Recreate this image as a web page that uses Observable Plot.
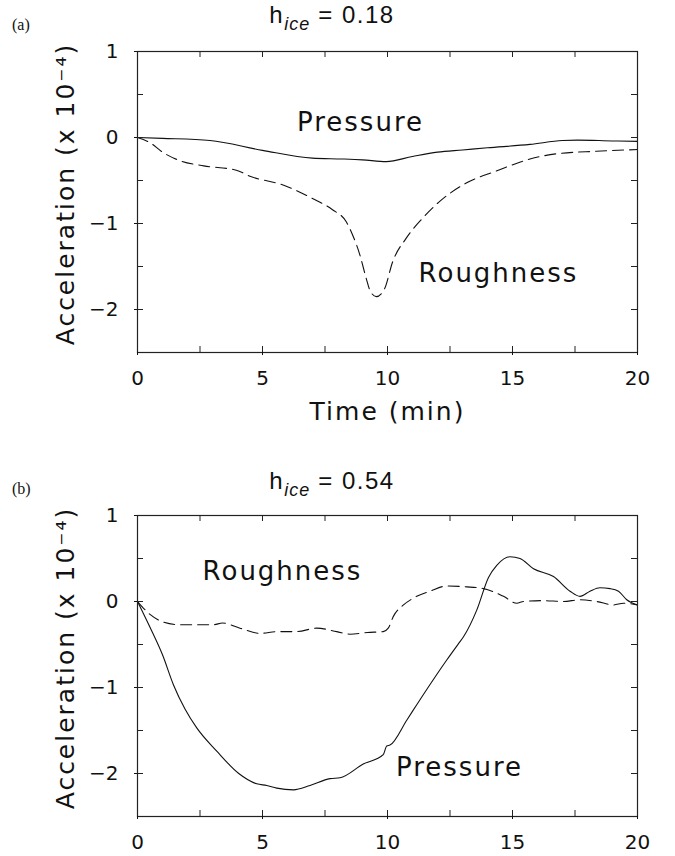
<!DOCTYPE html>
<html>
<head>
<meta charset="utf-8">
<script src="https://cdn.jsdelivr.net/npm/d3@7"></script>
<script src="https://cdn.jsdelivr.net/npm/@observablehq/plot@0.6"></script>
<style>
  body { margin: 0; background: #fff; }
  #fig { position: relative; width: 675px; height: 856px; background: #fff; overflow: hidden; }
  .ttl { position: absolute; font-family: "Liberation Sans", Arial, sans-serif; font-size: 24px; letter-spacing: 1.5px;
         white-space: nowrap; transform: translateX(-50%); line-height: 1; color: #111; }
  .ttl i { font-size: 18px; position: relative; top: 7px; letter-spacing: 1px; }
  .pl { position: absolute; font-family: "Liberation Serif", "Times New Roman", serif; font-size: 16px; line-height: 1; color: #111; }
  .panel { position: absolute; left: 0; }
  .panel g[aria-label="text"] { letter-spacing: 2px; }
</style>
</head>
<body>
<div id="fig">
  <div class="pl" style="left:12px; top:17px;">(a)</div>
  <div class="ttl" style="left:332px; top:3px;">h<i>ice</i> = 0.18</div>
  <div class="panel" id="pa" style="top:40px;"></div>
  <div class="pl" style="left:12px; top:481px;">(b)</div>
  <div class="ttl" style="left:332px; top:469px;">h<i>ice</i> = 0.54</div>
  <div class="panel" id="pb" style="top:500px;"></div>
</div>
<script>
// ---------- data (time in min, acceleration in units of 1e-4) ----------
// Panel (a): h_ice = 0.18
const aPressT = [0, 1, 2.9, 5, 7, 8.2, 9, 9.95, 11, 12, 13, 14, 15.7, 17, 17.6, 19, 20];
const aPressV = [0, -0.01, -0.035, -0.15, -0.24, -0.25, -0.26, -0.28, -0.22, -0.17, -0.145, -0.12, -0.08, -0.035, -0.03, -0.04, -0.045];
const aRoughT = [0, 0.5, 1.0, 1.7, 2.65, 3.95, 4.5, 5.9, 7.0, 7.8, 8.35, 8.6, 8.9, 9.15, 9.3, 9.55, 9.88, 10.2, 10.75, 11.4, 12.1, 13.15, 14.35, 15.7, 16.75, 18.35, 20];
const aRoughV = [0, -0.06, -0.17, -0.27, -0.33, -0.38, -0.45, -0.56, -0.71, -0.84, -0.98, -1.13, -1.37, -1.64, -1.78, -1.85, -1.76, -1.45, -1.17, -0.94, -0.74, -0.53, -0.39, -0.25, -0.19, -0.16, -0.14];

// Panel (b): h_ice = 0.54
const bPressT = [0, 0.5, 1.0, 1.44, 1.9, 2.37, 3.17, 4.05, 4.77, 5.17, 5.57, 6.24, 6.9, 7.7, 8.1, 9.03, 9.83, 9.97, 10.1, 10.77, 11.17, 12.37, 12.84, 13.04, 13.57, 14.04, 14.37, 14.9, 15.3, 15.84, 16.64, 17.3, 17.7, 18.1, 18.5, 18.9, 19.24, 19.57, 20];
const bPressV = [0, -0.3, -0.62, -0.97, -1.25, -1.47, -1.74, -2.0, -2.12, -2.14, -2.17, -2.19, -2.14, -2.06, -2.05, -1.89, -1.78, -1.68, -1.67, -1.38, -1.2, -0.68, -0.49, -0.41, -0.1, 0.28, 0.42, 0.52, 0.5, 0.38, 0.29, 0.12, 0.06, 0.12, 0.16, 0.15, 0.12, 0.02, -0.04];
const bRoughT = [0, 0.5, 1.04, 1.7, 3.04, 3.4, 4.1, 4.9, 5.6, 6.37, 7.17, 7.97, 8.5, 9.2, 9.83, 10.03, 10.24, 10.64, 11.04, 11.7, 12.37, 13.17, 13.84, 14.64, 15.17, 15.44, 16.24, 17.04, 17.7, 18.37, 19.04, 19.44, 20];
const bRoughV = [0, -0.15, -0.24, -0.27, -0.27, -0.25, -0.31, -0.37, -0.35, -0.35, -0.31, -0.35, -0.38, -0.36, -0.35, -0.31, -0.17, -0.04, 0.04, 0.12, 0.18, 0.17, 0.15, 0.06, -0.02, 0.0, 0.01, 0.0, 0.02, 0.0, -0.04, -0.02, -0.04];

// axes
const xMajor = [0, 5, 10, 15, 20];
const xMinor = [0, 2.5, 5, 7.5, 10, 12.5, 15, 17.5, 20];
const yMajor = [-2, -1, 0, 1];
const yMinor = [-2.5, -2, -1.5, -1, -0.5, 0, 0.5, 1];
const xDomain = [0, 20];
const yDomain = [-2.5, 1];
const yTitle = "Acceleration (x 10\u207B\u2074)";
const xTitle = "Time (min)";

// curve labels: [text, t, v]
const aLabels = [["Pressure", 8.92, 0.17], ["Roughness", 14.44, -1.585]];
const bLabels = [["Roughness", 5.8, 0.343], ["Pressure", 12.88, -1.93]];

const toRows = (T, V) => T.map((t, i) => ({t, v: V[i]}));
const fmt = d => d < 0 ? "\u2212" + Math.abs(d) : String(d);

function panel({press, rough, labels, height, marginTop, marginBottom, showXTitle}) {
  const inner = height - marginTop - marginBottom;
  const width = 675, marginLeft = 137, marginRight = 38;
  const innerW = width - marginLeft - marginRight;
  const tk = 6;
  const marks = [
    Plot.line(press, {x: "t", y: "v", stroke: "#111", strokeWidth: 1.1, curve: "monotone-x"}),
    Plot.line(rough, {x: "t", y: "v", stroke: "#111", strokeWidth: 1.1, strokeDasharray: "11,6", curve: "monotone-x"}),
    Plot.frame({stroke: "#222", strokeWidth: 1.2}),
    Plot.ruleX(xMinor, {x: d => d, insetTop: inner - tk, stroke: "#222"}),
    Plot.ruleX(xMinor, {x: d => d, insetBottom: inner - tk, stroke: "#222"}),
    Plot.ruleY(yMinor, {y: d => d, insetRight: innerW - tk, stroke: "#222"}),
    Plot.ruleY(yMinor, {y: d => d, insetLeft: innerW - tk, stroke: "#222"}),
    Plot.axisX({ticks: xMajor, tickSize: 3, tickPadding: 15, tickFormat: fmt, fontSize: 20, label: null}),
    Plot.axisY({ticks: yMajor, tickSize: 3, tickPadding: 16, tickFormat: fmt, fontSize: 20, label: null}),
    Plot.text(labels, {x: d => d[1], y: d => d[2], text: d => d[0], fontSize: 26, fill: "#111"}),
    Plot.text([yTitle], {frameAnchor: "left", textAnchor: "middle", rotate: -90, dx: -72, dy: -8, fontSize: 25, fill: "#111"})
  ];
  if (showXTitle) marks.push(Plot.text([xTitle], {frameAnchor: "bottom", textAnchor: "middle", lineAnchor: "bottom", dy: 67, fontSize: 25, fill: "#111"}));
  return Plot.plot({
    width, height, marginLeft, marginRight, marginTop, marginBottom,
    x: {domain: xDomain, label: null},
    y: {domain: yDomain, label: null},
    style: {fontFamily: "'DejaVu Sans', sans-serif", fontSize: "20px", color: "#111", background: "white", overflow: "visible"},
    marks
  });
}

document.getElementById("pa").append(panel({
  press: toRows(aPressT, aPressV), rough: toRows(aRoughT, aRoughV), labels: aLabels,
  height: 400, marginTop: 11, marginBottom: 88, showXTitle: true
}));
document.getElementById("pb").append(panel({
  press: toRows(bPressT, bPressV), rough: toRows(bRoughT, bRoughV), labels: bLabels,
  height: 356, marginTop: 15, marginBottom: 40, showXTitle: false
}));
</script>
</body>
</html>
